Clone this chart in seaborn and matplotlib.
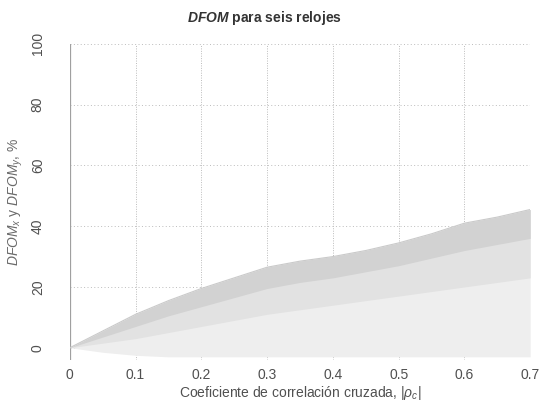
import matplotlib
matplotlib.use("Agg")
import matplotlib.pyplot as plt
import seaborn as sns
import pandas as pd

# Cross-correlation coefficient |rho_c| and DFOM envelope (%) for the six clocks
rho = [0.0, 0.05, 0.10, 0.15, 0.20, 0.25, 0.30, 0.35, 0.40, 0.45, 0.50, 0.55, 0.60, 0.65, 0.70]
dfom_upper = [0.0, 5.5, 11.0, 15.5, 19.5, 23.0, 26.5, 28.5, 30.0, 32.0, 34.5, 37.5, 41.0, 43.0, 45.5]
dfom_dense = [0.0, 3.5, 7.0, 10.5, 13.5, 16.5, 19.5, 21.5, 23.0, 25.0, 27.0, 29.5, 32.0, 34.0, 36.0]
dfom_mid = [0.0, 1.5, 3.0, 5.0, 7.0, 9.0, 11.0, 12.5, 14.0, 15.5, 17.0, 18.5, 20.0, 21.5, 23.0]
dfom_lower = [0.0, -1.5, -2.5, -3.0, -3.0, -3.0, -3.0, -3.0, -3.0, -3.0, -3.0, -3.0, -3.0, -3.0, -3.0]

x_ticks = [0.0, 0.1, 0.2, 0.3, 0.4, 0.5, 0.6, 0.7]
x_tick_labels = ["0", "0.1", "0.2", "0.3", "0.4", "0.5", "0.6", "0.7"]
y_ticks = [0, 20, 40, 60, 80, 100]
y_tick_labels = ["0", "20", "40", "60", "80", "100"]

df = pd.DataFrame({"rho": rho, "upper": dfom_upper, "dense": dfom_dense,
                   "mid": dfom_mid, "lower": dfom_lower})

sns.set_theme(style="white")
plt.rcParams["font.family"] = ["Liberation Sans", "DejaVu Sans"]
plt.rcParams["mathtext.fontset"] = "custom"
plt.rcParams["mathtext.rm"] = "Liberation Sans"
plt.rcParams["mathtext.it"] = "Liberation Sans:italic"
plt.rcParams["mathtext.bf"] = "Liberation Sans:bold"
plt.rcParams["mathtext.bfit"] = "Liberation Sans:bold:italic"

fig = plt.figure(figsize=(5.41, 4.03), dpi=100)
ax = fig.add_axes([0.129, 0.107, 0.851, 0.784])

text_col = "#505050"
grid_col = "#bcbcbc"

# faint dotted grid
for xv in x_ticks:
    ax.axvline(xv, color=grid_col, lw=0.7, ls=(0, (1, 1.5)), zorder=1)
for yv in y_ticks:
    ax.axhline(yv, color=grid_col, lw=0.7, ls=(0, (1, 2.5)), zorder=1)
ax.axvline(0.0, color="#a0a0a0", lw=0.9, zorder=1)

# shaded DFOM region, darker where the curves are densest
ax.fill_between(df["rho"], df["lower"], df["upper"], color="#eeeeee", lw=0, zorder=2)
ax.fill_between(df["rho"], df["mid"], df["upper"], color="#e2e2e2", lw=0, zorder=2)
ax.fill_between(df["rho"], df["dense"], df["upper"], color="#d2d2d2", lw=0, zorder=2)
sns.lineplot(data=df, x="rho", y="upper", color="#cacaca", lw=0.8, ax=ax, zorder=3)

ax.set_xlim(0, 0.7)
ax.set_ylim(-4, 100)
ax.set_xticks(x_ticks)
ax.set_xticklabels(x_tick_labels)
ax.set_yticks(y_ticks)
ax.set_yticklabels(y_tick_labels, rotation=90, va="center")
ax.tick_params(axis="both", length=0, labelsize=10, colors=text_col)
ax.tick_params(axis="x", pad=6)
ax.tick_params(axis="y", pad=18)
for s in ax.spines.values():
    s.set_visible(False)

ax.set_xlabel(r"Coeficiente de correlación cruzada, |$\rho_c$|", fontsize=10,
              color=text_col, labelpad=1)
ax.set_ylabel(r"$\mathit{DFOM}_x$ y $\mathit{DFOM}_y$, %", fontsize=10,
              color="#6a6a6a", labelpad=4)

fig.text(0.488, 0.955, r"$\mathbfit{DFOM}$ para seis relojes",
         ha="center", va="center", fontsize=10, fontweight="bold", color="#333333")

fig.savefig("out.png", dpi=100)
